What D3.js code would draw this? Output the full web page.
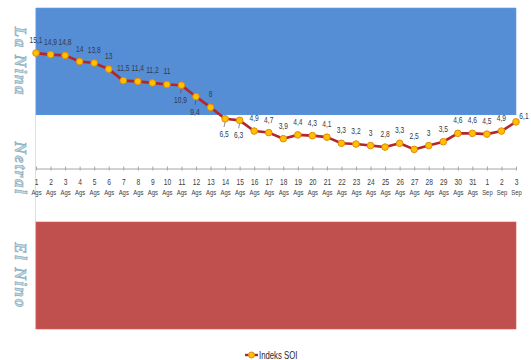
<!DOCTYPE html>
<html>
<head>
<meta charset="utf-8">
<script src="https://cdn.jsdelivr.net/npm/d3@7/dist/d3.min.js"></script>
<style>
  html, body { margin: 0; padding: 0; background: #fff; }
  svg { display: block; }
</style>
</head>
<body>
<svg id="chart" width="531" height="360"></svg>
<script>
// Daily SOI values, 1 August – 3 September
const days = ["1","2","3","4","5","6","7","8","9","10","11","12","13","14","15","16","17",
              "18","19","20","21","22","23","24","25","26","27","28","29","30","31","1","2","3"];
const months = ["Ags","Ags","Ags","Ags","Ags","Ags","Ags","Ags","Ags","Ags","Ags","Ags","Ags",
                "Ags","Ags","Ags","Ags","Ags","Ags","Ags","Ags","Ags","Ags","Ags","Ags","Ags",
                "Ags","Ags","Ags","Ags","Ags","Sep","Sep","Sep"];
const soi = [15.1, 14.9, 14.8, 14, 13.8, 13, 11.5, 11.4, 11.2, 11, 10.9, 9.4, 8, 6.5, 6.3,
             4.9, 4.7, 3.9, 4.4, 4.3, 4.1, 3.3, 3.2, 3, 2.8, 3.3, 2.5, 3, 3.5, 4.6, 4.6, 4.5, 4.9, 6.1];

// Climate state bands on the SOI scale
const bandNames = ["La Nina", "Netral", "El Nino"];
const bandLow   = [7, -7, -21];
const bandHigh  = [21, 7, -7];
const bandFill  = ["#558ed5", "#ffffff", "#c0504d"];

const seriesName = "Indeks SOI";
const yDomain = [-21, 21];

const svg = d3.select("#chart");
const plotLeft = 36, plotRight = 516, plotTop = 8, plotBottom = 329;

const x = d3.scalePoint().domain(d3.range(soi.length)).range([plotLeft, plotRight]);
const y = d3.scaleLinear().domain(yDomain).range([plotBottom, plotTop]);

const narrowFont = "'Liberation Sans', Arial, sans-serif";
// condensed text: horizontally squeezed sans
function narrowText(parent, tx, ty, str, size, fill, anchor) {
  return parent.append("text")
    .attr("transform", `translate(${tx},${ty}) scale(0.74,1)`)
    .attr("text-anchor", anchor || "middle")
    .attr("font-family", narrowFont)
    .attr("font-size", size)
    .attr("fill", fill)
    .text(str);
}

// vertical axis line
svg.append("line")
  .attr("x1", plotLeft).attr("x2", plotLeft)
  .attr("y1", plotTop).attr("y2", plotBottom)
  .attr("stroke", "#bfbfbf").attr("stroke-width", 1);

// bands
svg.selectAll("rect.band")
  .data(bandNames)
  .join("rect")
  .attr("class", "band")
  .attr("x", plotLeft)
  .attr("width", plotRight - plotLeft)
  .attr("y", (d, i) => y(bandHigh[i]))
  .attr("height", (d, i) => y(bandLow[i]) - y(bandHigh[i]))
  .attr("fill", (d, i) => bandFill[i])
  .attr("stroke", (d, i) => i === 1 ? "none" : d3.color(bandFill[i]).brighter(0.3))
  .attr("stroke-width", 0.6);

// band names along the left edge
svg.selectAll("text.bandName")
  .data(bandNames)
  .join("text")
  .attr("class", "bandName")
  .attr("transform", (d, i) => `translate(20,${(y(bandLow[i]) + y(bandHigh[i])) / 2}) rotate(90)`)
  .attr("text-anchor", "middle")
  .attr("dominant-baseline", "central")
  .attr("font-family", "'Liberation Serif', 'DejaVu Serif', serif")
  .attr("font-style", "italic")
  .attr("font-weight", "bold")
  .attr("font-size", 17)
  .attr("letter-spacing", 1.6)
  .attr("fill", "#c2d8e2")
  .attr("stroke", "#86abbe")
  .attr("stroke-width", 0.6)
  .text(d => d);

// category axis at zero
const xAxis = d3.axisBottom(x).tickSize(0).tickFormat("");
const axisG = svg.append("g").attr("transform", `translate(0,${y(0)})`).call(xAxis);
axisG.select(".domain").attr("stroke", "#a6a6a6");
axisG.selectAll(".tick").append("line")
  .attr("y1", -2).attr("y2", 2).attr("stroke", "#a6a6a6");

axisG.selectAll(".tick").each(function(d) {
  const g = d3.select(this);
  narrowText(g, 0, 16, days[d], 9, "#404040");
  narrowText(g, 0, 26, months[d], 8, "#404040");
});

// SOI line
const line = d3.line().x((d, i) => x(i)).y(d => y(d));
svg.append("path")
  .datum(soi)
  .attr("d", line)
  .attr("fill", "none")
  .attr("stroke", "#b3262e")
  .attr("stroke-width", 2.6)
  .attr("stroke-linejoin", "round");

// value labels; steep-drop points get theirs below with a leader,
// the final point's label sits to its right
const below = new Set([10, 11, 13, 14]);
const lastIdx = soi.length - 1;
const fmt = v => String(v).replace(".", ",");
soi.forEach((v, i) => {
  const px = x(i), py = y(v);
  if (below.has(i)) {
    svg.append("line")
      .attr("x1", px).attr("x2", px - 1)
      .attr("y1", py + 3).attr("y2", py + 8)
      .attr("stroke", "#404040").attr("stroke-width", 0.6);
    narrowText(svg, px - 1, py + 18, fmt(v), 9, "#333a4a");
  } else if (i === lastIdx) {
    narrowText(svg, px + 8, py - 3, fmt(v), 9, "#333a4a");
  } else {
    narrowText(svg, px, py - 10, fmt(v), 9, "#333a4a");
  }
});

// markers
svg.selectAll("circle.pt")
  .data(soi)
  .join("circle")
  .attr("class", "pt")
  .attr("cx", (d, i) => x(i))
  .attr("cy", d => y(d))
  .attr("r", 3.3)
  .attr("fill", "#ffc000")
  .attr("stroke", "#e38a0b")
  .attr("stroke-width", 1);

// legend
const lg = svg.append("g").attr("transform", "translate(245,355)");
lg.append("line").attr("x1", 0).attr("x2", 13).attr("y1", 0).attr("y2", 0)
  .attr("stroke", "#b3262e").attr("stroke-width", 2.4);
lg.append("circle").attr("cx", 6.5).attr("cy", 0).attr("r", 3)
  .attr("fill", "#ffc000").attr("stroke", "#e38a0b").attr("stroke-width", 1);
narrowText(lg, 14, 3.5, seriesName, 10.5, "#262626", "start");
</script>
</body>
</html>
